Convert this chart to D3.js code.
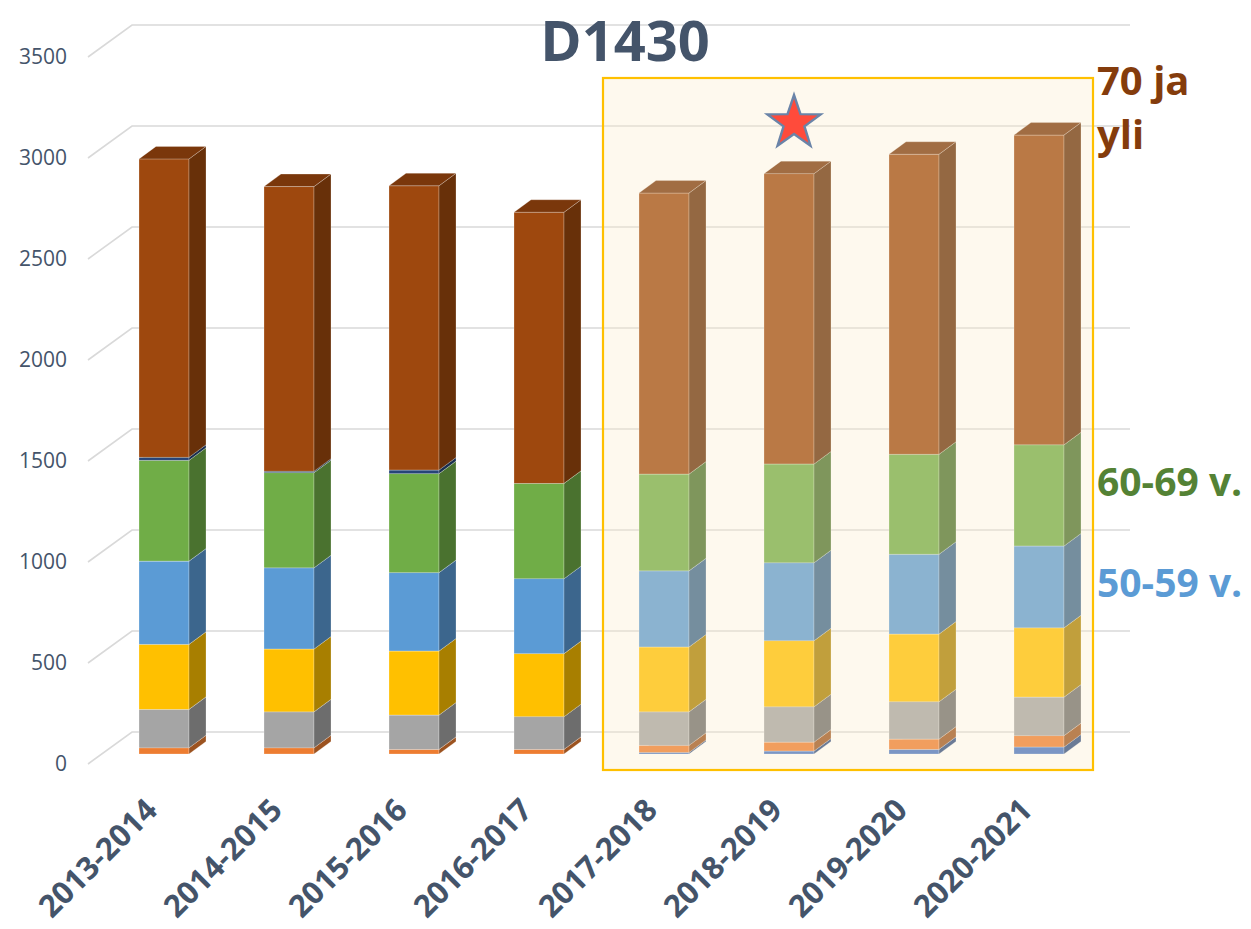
<!DOCTYPE html>
<html>
<head>
<meta charset="utf-8">
<script src="https://cdnjs.cloudflare.com/ajax/libs/d3/7.8.5/d3.min.js"></script>
<style>
body{margin:0;background:#fff;}
svg{display:block;font-family:"Open Sans",sans-serif;}
</style>
</head>
<body>
<svg id="canvas" width="1251" height="929"></svg>
<script>
categories=["2013-2014","2014-2015","2015-2016","2016-2017","2017-2018","2018-2019","2019-2020","2020-2021"]
keys=["alle 30 v.","30-39 v.","40-44 v.","45-49 v.","50-59 v.","60-69 v.","ei tietoa","70 ja yli"]
colors=["#4472C4","#ED7D31","#A5A5A5","#FFC000","#5B9BD5","#70AD47","#264478","#9E480E"]

s_alle30=[0,0,0,0,8,15,23,35]
s_30_39=[31,31,23,23,35,44,51,56]
s_40_44=[190,178,170,162,166,175,185,191]
s_45_49=[322,311,317,312,321,327,335,343]
s_50_59=[412,402,388,371,377,386,395,405]
s_60_69=[499,471,490,472,479,489,495,501]
s_eitietoa=[15,7,18,0,0,0,0,0]
s_70yli=[1477,1409,1407,1342,1391,1437,1485,1533]
series=[s_alle30,s_30_39,s_40_44,s_45_49,s_50_59,s_60_69,s_eitietoa,s_70yli]

yTicks=[0,500,1000,1500,2000,2500,3000,3500]
highlighted=["2017-2018","2018-2019","2019-2020","2020-2021"]
starAt="2018-2019"

DX=17;     // bar depth in screen px
DY=12.5;
WALL_DX=44; // floor depth
TEXT_COLOR="#44546A"

svg=d3.select("#canvas")

y=d3.scaleLinear().domain([0,3500]).range([754,47])
x=d3.scaleBand().domain(categories).range([101.5,1101.5]).paddingInner(0.6).paddingOuter(0.3)
bw=x.bandwidth()

function shade(c,f){
    var r=d3.rgb(c)
    return d3.rgb(r.r*f,r.g*f,r.b*f).formatHex()
}

// back wall gridlines, slanted on the floor side
grid=svg.append("g")
yTicks.forEach(function(t){
    var yf=y(t)+10, yb=y(t)-22
    grid.append("polyline")
        .attr("points",[[88,yf],[88+WALL_DX,yb],[1130,yb]].map(p=>p.join(",")).join(" "))
        .attr("fill","none")
        .attr("stroke","#D9D9D9")
        .attr("stroke-width",1.6)
    svg.append("text")
        .attr("x",67).attr("y",yf).attr("dy","0.35em")
        .attr("text-anchor","end")
        .attr("font-size","21px")
        .attr("fill",TEXT_COLOR)
        .text(t)
})

rows=categories.map(function(c,i){
    var r={cat:c}
    keys.forEach(function(k,j){ r[k]=series[j][i] })
    return r
})
stacked=d3.stack().keys(keys)(rows)

bars=svg.append("g")
categories.forEach(function(c,i){
    var x0=x(c), x1=x0+bw
    stacked.forEach(function(layer,j){
        var seg=layer[i]
        if(seg[1]-seg[0]<=0) return
        var yb=y(seg[0]), yt=y(seg[1]), col=colors[j]
        var g=bars.append("g").attr("stroke","rgba(255,255,255,0.35)").attr("stroke-width",0.7)
        g.append("rect")
            .attr("x",x0).attr("y",yt).attr("width",bw).attr("height",yb-yt)
            .attr("fill",col)
        g.append("polygon")
            .attr("points",[[x1,yb],[x1+DX,yb-DY],[x1+DX,yt-DY],[x1,yt]].map(p=>p.join(",")).join(" "))
            .attr("fill",shade(col,0.66))
        g.append("polygon")
            .attr("points",[[x0,yt],[x0+DX,yt-DY],[x1+DX,yt-DY],[x1,yt]].map(p=>p.join(",")).join(" "))
            .attr("fill",shade(col,0.77))
    })
})

// highlight box over the last years
hx0=x(highlighted[0])-36, hx1=x(highlighted[highlighted.length-1])+bw+29
svg.append("rect")
    .attr("x",hx0).attr("y",78)
    .attr("width",hx1-hx0).attr("height",692)
    .attr("fill","rgb(252,235,198)").attr("fill-opacity",0.3)
    .attr("stroke","#FFC000").attr("stroke-width",2.2)

// star
function starPoints(cx,cy,R,r){
    var pts=[]
    for(var k=0;k<10;k++){
        var a=-Math.PI/2+k*Math.PI/5, rad=k%2==0?R:r
        pts.push([cx+rad*Math.cos(a),cy+rad*Math.sin(a)])
    }
    return pts.map(p=>p.join(",")).join(" ")
}
svg.append("polygon")
    .attr("points",starPoints(x(starAt)+bw/2+5,123,28,11))
    .attr("fill","#FF4B3B")
    .attr("stroke","#6A84A8")
    .attr("stroke-width",2.4)
    .attr("stroke-linejoin","miter")

// category labels
svg.append("g").selectAll("text")
    .data(categories)
    .enter()
    .append("text")
    .attr("transform",function(d){ return "translate("+(x(d)+bw/2-5)+",812) rotate(-45)" })
    .attr("text-anchor","end")
    .attr("font-size","31px")
    .attr("font-weight","bold")
    .attr("fill",TEXT_COLOR)
    .text(function(d){ return d })

// title
svg.append("text")
    .attr("x",625).attr("y",61)
    .attr("text-anchor","middle")
    .attr("font-size","56px")
    .attr("font-weight","bold")
    .attr("fill",TEXT_COLOR)
    .text("D1430")

// series names on the right
svg.append("text")
    .attr("x",1097).attr("y",95)
    .attr("font-size","40px").attr("font-weight","bold")
    .attr("fill","#843C0C")
    .selectAll("tspan").data(["70 ja","yli"]).enter()
    .append("tspan").attr("x",1097).attr("dy",(d,i)=>i==0?0:54).text(d=>d)
svg.append("text")
    .attr("x",1097).attr("y",496)
    .attr("font-size","39px").attr("font-weight","bold")
    .attr("fill","#548235")
    .text(keys[5])
svg.append("text")
    .attr("x",1097).attr("y",597)
    .attr("font-size","39px").attr("font-weight","bold")
    .attr("fill","#5B9BD5")
    .text(keys[4])
</script>
</body>
</html>
